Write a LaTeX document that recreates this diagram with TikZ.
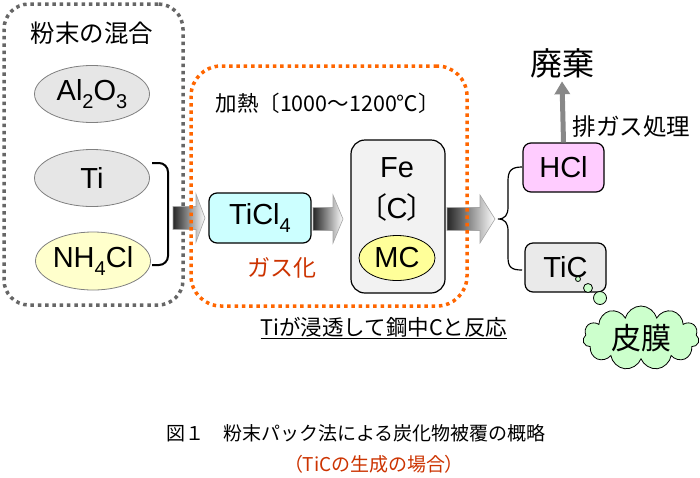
\documentclass[tikz,border=0pt]{standalone}
\usepackage{fontspec}
\setmainfont{Liberation Sans}
\newfontfamily\jp{Noto Sans CJK JP}
\newfontfamily\jpp[RawFeature=+palt]{Noto Sans CJK JP}
\usetikzlibrary{shapes.geometric,shapes.symbols,arrows.meta,calc}
\definecolor{dotgray}{HTML}{666666}
\definecolor{dotorange}{HTML}{FF6600}
\definecolor{ellgray}{HTML}{E6E6E6}
\definecolor{ellline}{HTML}{808080}
\definecolor{paleyellow}{HTML}{FFFFCC}
\definecolor{mcyellow}{HTML}{FFFF99}
\definecolor{palecyan}{HTML}{CCFFFF}
\definecolor{palepink}{HTML}{FFCCFF}
\definecolor{fegray}{HTML}{F2F2F2}
\definecolor{ticgray}{HTML}{EAEAEA}
\definecolor{palegreen}{HTML}{CCFFCC}
\definecolor{redtext}{HTML}{CC3300}
\definecolor{arrowgray}{HTML}{888888}
\newcommand\mysub[1]{\raisebox{-0.3em}{\fontsize{20}{20}\selectfont #1}}
\newcommand\blockarrow[4]{%
  \shadedraw[left color=black!85, right color=white, draw=gray!70, line width=0.6pt]
    (#1,#4-11.5) -- (#2,#4-11.5) -- (#2,#4-24) -- (#3,#4) -- (#2,#4+24) -- (#2,#4+11.5) -- (#1,#4+11.5) -- cycle;}
\tikzset{
  latin/.style={font=\fontsize{29}{29}\selectfont},
  ell/.style={ellipse, draw=ellline, line width=0.8pt, inner sep=0pt, latin},
  rbox/.style={rectangle, draw=black, line width=1.2pt, rounded corners=8pt, inner sep=0pt, latin},
  graydots/.style={draw=dotgray, line width=3.5pt, dash pattern=on 3.5pt off 3.8pt},
  orangedots/.style={draw=dotorange, line width=3.5pt, dash pattern=on 3.5pt off 3.8pt},
  bubble/.style={circle, draw=black, line width=0.8pt, fill=palegreen, inner sep=0pt},
}
\begin{document}
\begin{tikzpicture}[x=1pt,y=-1pt]
\path[use as bounding box, fill=white] (0,0) rectangle (700,477);

% mixing box
\node (mixbox) [graydots, rounded corners=25pt, minimum width=179pt, minimum height=301pt] at (93.5,154.5) {};
\node (mixtitle) at (92,33) {\jp\fontsize{24.5}{24.5}\selectfont 粉末の混合};
\node (al) [ell, fill=ellgray, minimum width=115pt, minimum height=57pt] at (92,94) {Al\mysub{2}O\mysub{3}};
\node (ti) [ell, fill=ellgray, minimum width=115pt, minimum height=57pt] at (92,178) {Ti};
\node (nh) [ell, fill=paleyellow, minimum width=115pt, minimum height=58pt] at (93,261) {NH\mysub{4}Cl};
\draw[line width=2pt, rounded corners=9pt] (152,163) -- (168,163) -- (168,265) -- (152,265);

% block arrows
\blockarrow{173}{196}{205}{218}
\blockarrow{313}{333}{343}{219}
\blockarrow{447}{480}{495}{219}

% heating box
\node (heat) [orangedots, rounded corners=30pt, minimum width=276pt, minimum height=240pt] at (329,186) {};
\node (heattitle) [anchor=west] at (212,103) {\jp\fontsize{21.5}{21.5}\selectfont 加熱〔1000～1200℃〕};
\node (ticl) [rbox, fill=palecyan, minimum width=102pt, minimum height=50pt] at (260,218) {TiCl\mysub{4}};
\node (gas) [text=redtext] at (282,268) {\jp\fontsize{23}{23}\selectfont ガス化};
\node (fe) [rbox, fill=fegray, rounded corners=14pt, minimum width=94pt, minimum height=153pt] at (398,216.5) {};
\node (fetext) [latin] at (397,168) {Fe};
\node (ctext) [latin] at (397,207) {{\jpp 〔}C{\jpp 〕}};
\node (mc) [ell, draw=black, fill=mcyellow, minimum width=76pt, minimum height=45pt] at (397,258) {MC};
\node (react) at (384,328) {\jp\fontsize{21.5}{21.5}\selectfont \underline{Tiが浸透して鋼中Cと反応}};

% products
\draw[line width=1.2pt] (522,167) .. controls (511,167) and (508,171) .. (508,181) -- (508,207)
  .. controls (508,215) and (505,219) .. (498,219) .. controls (505,219) and (508,223) .. (508,231)
  -- (508,257) .. controls (508,267) and (511,270) .. (522,270);
\node (hcl) [rbox, fill=palepink, minimum width=81pt, minimum height=49pt] at (563.5,167.5) {HCl};
\node (tic) [rbox, fill=ticgray, minimum width=81pt, minimum height=49pt] at (565.5,267.5) {TiC};
\node (waste) at (562,63) {\jp\fontsize{32}{32}\selectfont 廃棄};
\draw[line width=5pt, arrowgray, -{Triangle[width=15pt,length=13pt]}] (hcl.north) -- (waste.south);
\node (exhaust) [anchor=west] at (569,127) {\jp\fontsize{23.5}{23.5}\selectfont 排ガス処理};
\node (b1) [bubble, minimum size=5pt] at (578,279) {};
\node (b2) [bubble, minimum size=9pt] at (588,288) {};
\node (b3) [bubble, minimum size=13pt] at (600,298) {};
\node (film) [cloud, cloud puffs=11, aspect=1.9, draw=black, line width=0.8pt, fill=palegreen, inner sep=0pt, minimum width=116pt, minimum height=64pt] at (641,338) {\jp\fontsize{30}{30}\selectfont 皮膜};

% caption
\node (cap1) at (356,433) {\jp\fontsize{19}{19}\selectfont 図１　粉末パック法による炭化物被覆の概略};
\node (cap2) [text=redtext] at (374,464) {\jp\fontsize{19}{19}\selectfont {\jpp （}TiCの生成の場合{\jpp ）}};
\end{tikzpicture}
\end{document}
